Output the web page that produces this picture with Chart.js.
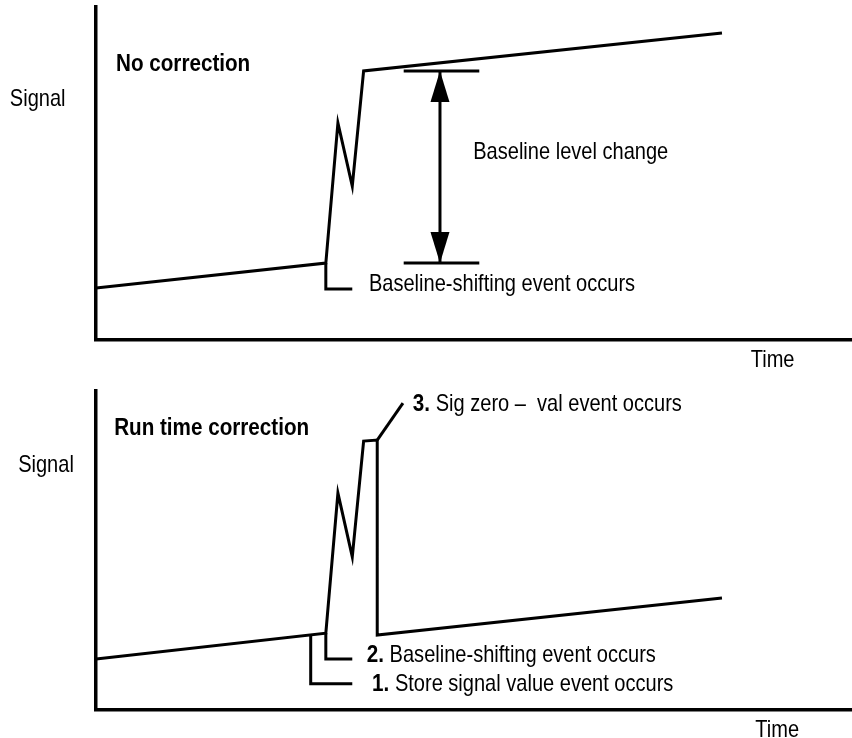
<!DOCTYPE html>
<html><head><meta charset="utf-8">
<script src="https://cdn.jsdelivr.net/npm/chart.js@4"></script>
<style>
html,body{margin:0;padding:0;background:#fff;}
#wrap{position:relative;width:852px;height:738px;overflow:hidden;}
canvas{position:absolute;left:0;}
#c1{top:0}
#c2{top:369px}
</style></head><body>
<div id="wrap"><canvas id="c1" width="852" height="369"></canvas><canvas id="c2" width="852" height="369"></canvas></div>
<script>
// ---------- data (time / signal units, 0-100) ----------
// Panel 1: No correction
const timeTop = [0, 30.4, 32.0, 33.9, 35.4, 82.8];
const signalTop = [15.6, 23.1, 65.2, 46.2, 80.8, 92.2];
const shiftEventTopTime = [30.4, 30.4, 33.9];
const shiftEventTopSignal = [23.1, 15.3, 15.3];
const levelChangeTime = 45.5;
const levelHigh = 80.8;
const levelLow = 23.1;
const levelBarTime = [40.7, 50.7];

// Panel 2: Run time correction
const timeBottom = [0, 30.4, 32.0, 33.9, 35.4, 37.2, 37.2, 82.8];
const signalBottom = [16.0, 24.1, 68.0, 48.0, 84.3, 84.6, 23.5, 35.1];
const storeEventTime = [28.4, 28.4, 33.9];
const storeEventSignal = [23.8, 8.2, 8.2];
const shiftEventTime = [30.4, 30.4, 33.9];
const shiftEventSignal = [24.1, 16.0, 16.0];
const zeroEventTime = [37.2, 40.6];
const zeroEventSignal = [84.6, 96.2];

// text
const axisYLabel = 'Signal';
const axisXLabel = 'Time';
const titleTop = 'No correction';
const titleBottom = 'Run time correction';
const levelChangeText = 'Baseline level change';
const shiftEventText = 'Baseline-shifting event occurs';
const stepLabels = ['1.', '2.', '3.'];
const stepTexts = ['Store signal value event occurs', 'Baseline-shifting event occurs', 'Sig zero \u2013  val event occurs'];

// ---------- helpers ----------
const FONT = '"Liberation Sans", Arial, sans-serif';
const FS = 24;
const SX = 0.835;      // horizontal condensing, regular
const SX_BOLD = 0.86;  // horizontal condensing, bold
const LW = 3;

function pts(xs, ys) { return xs.map((x, i) => ({x: x, y: ys[i]})); }
function lineDs(xs, ys) {
  return {type: 'line', data: pts(xs, ys), borderColor: '#000', borderWidth: LW,
    pointRadius: 0, tension: 0, fill: false, borderJoinStyle: 'miter', borderCapStyle: 'butt'};
}

function drawText(ctx, str, x, y, bold) {
  const sx = bold ? SX_BOLD : SX;
  ctx.font = (bold ? 'bold ' : '') + FS + 'px ' + FONT;
  ctx.save();
  ctx.translate(x, y);
  ctx.scale(sx, 1);
  ctx.fillText(str, 0, 0);
  ctx.restore();
  return ctx.measureText(str).width * sx;
}

const textPlugin = {
  id: 'texts',
  afterDraw(chart) {
    const items = chart.options.plugins.texts.items || [];
    const xs = chart.scales.x, ys = chart.scales.y;
    const ctx = chart.ctx;
    ctx.save();
    ctx.fillStyle = '#000';
    ctx.textBaseline = 'alphabetic';
    ctx.textAlign = 'left';
    items.forEach(it => {
      let x = xs.getPixelForValue(it.x);
      const y = ys.getPixelForValue(it.y);
      if (it.bold) {
        x += drawText(ctx, it.bold + ' ', x, y, true);
      }
      if (it.text) {
        drawText(ctx, it.text, x, y, !!it.allBold);
      }
    });
    const ar = chart.options.plugins.texts.arrow;
    if (ar) {
      const ax = xs.getPixelForValue(ar.x);
      const yh = ys.getPixelForValue(ar.high);
      const yl = ys.getPixelForValue(ar.low);
      const h = 31, w = 9.5;
      ctx.beginPath();
      ctx.moveTo(ax, yh); ctx.lineTo(ax - w, yh + h); ctx.lineTo(ax + w, yh + h); ctx.closePath();
      ctx.fill();
      ctx.beginPath();
      ctx.moveTo(ax, yl); ctx.lineTo(ax - w, yl - h); ctx.lineTo(ax + w, yl - h); ctx.closePath();
      ctx.fill();
    }
    ctx.restore();
  }
};

function scaleCfg() {
  return {type: 'linear', min: 0, max: 100, display: true,
    grid: {display: false, drawTicks: false}, ticks: {display: false},
    border: {display: true, width: 3.5, color: '#000'}};
}

function makeChart(id, datasets, items, padding, arrow) {
  return new Chart(document.getElementById(id), {
    type: 'line',
    data: {datasets: datasets},
    options: {
      responsive: false, animation: false, devicePixelRatio: 1,
      layout: {padding: padding},
      scales: {x: scaleCfg(), y: scaleCfg()},
      plugins: {legend: {display: false}, tooltip: {enabled: false}, texts: {items: items, arrow: arrow}}
    },
    plugins: [textPlugin]
  });
}

// ---------- panel 1 ----------
makeChart('c1', [
  lineDs(timeTop, signalTop),
  lineDs(shiftEventTopTime, shiftEventTopSignal),
  lineDs([levelChangeTime, levelChangeTime], [levelLow, levelHigh]),
  lineDs(levelBarTime, [levelHigh, levelHigh]),
  lineDs(levelBarTime, [levelLow, levelLow])
], [
  {x: -11.4, y: 70.3, text: axisYLabel},
  {x: 86.6, y: -8.1, text: axisXLabel},
  {x: 2.65, y: 80.8, text: titleTop, allBold: true},
  {x: 49.9, y: 54.4, text: levelChangeText},
  {x: 36.1, y: 14.7, text: shiftEventText}
], {left: 96, top: 7, right: 0, bottom: 29},
{x: levelChangeTime, high: levelHigh, low: levelLow});

// ---------- panel 2 ----------
makeChart('c2', [
  lineDs(timeBottom, signalBottom),
  lineDs(storeEventTime, storeEventSignal),
  lineDs(shiftEventTime, shiftEventSignal),
  lineDs(zeroEventTime, zeroEventSignal)
], [
  {x: -10.3, y: 74.6, text: axisYLabel},
  {x: 87.2, y: -8.5, text: axisXLabel},
  {x: 2.4, y: 86.2, text: titleBottom, allBold: true},
  {x: 41.9, y: 93.7, bold: stepLabels[2], text: stepTexts[2]},
  {x: 35.8, y: 15.0, bold: stepLabels[1], text: stepTexts[1]},
  {x: 36.5, y: 6.0, bold: stepLabels[0], text: stepTexts[0]}
], {left: 96, top: 22, right: 0, bottom: 28}, null);
</script>
</body></html>
